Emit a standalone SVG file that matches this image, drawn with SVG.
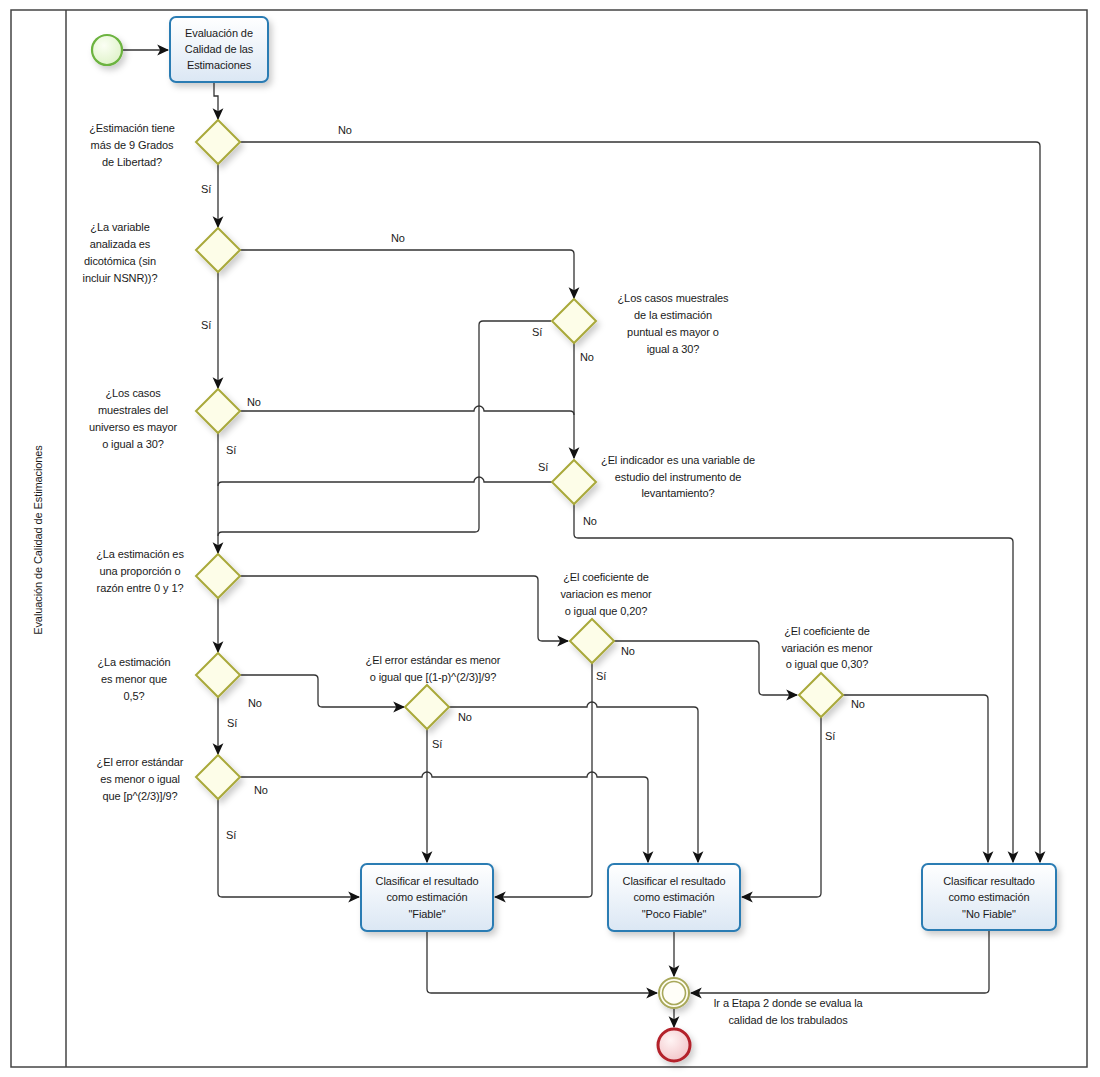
<svg xmlns="http://www.w3.org/2000/svg" width="1100" height="1077" viewBox="0 0 1100 1077">
<defs>
<marker id="arr" markerUnits="userSpaceOnUse" markerWidth="12" markerHeight="12" viewBox="0 0 10 10" refX="9" refY="5" orient="auto">
<path d="M0,0.5 L10,5 L0,9.5 L2.5,5 z" fill="#111"/>
</marker>
<linearGradient id="taskg" x1="0" y1="0" x2="0" y2="1">
<stop offset="0" stop-color="#ffffff"/><stop offset="1" stop-color="#dbe7f4"/>
</linearGradient>
<radialGradient id="endg" cx="0.4" cy="0.35" r="0.7">
<stop offset="0" stop-color="#fff4f4"/><stop offset="1" stop-color="#f2c4c8"/>
</radialGradient>
<radialGradient id="startg" cx="0.4" cy="0.35" r="0.7">
<stop offset="0" stop-color="#fbfff4"/><stop offset="1" stop-color="#def2c8"/>
</radialGradient>
<filter id="sh" x="-30%" y="-30%" width="170%" height="170%">
<feDropShadow dx="3" dy="4" stdDeviation="3" flood-color="#000" flood-opacity="0.2"/>
</filter>
</defs>
<style>
text{font-family:"Liberation Sans",Arial,sans-serif;font-size:11px;fill:#1a1a1a;letter-spacing:-0.1px}
.c{text-anchor:middle}
.task{fill:url(#taskg);stroke:#2a7bb3;stroke-width:2}
.gw{fill:#fdfde8;stroke:#a9a93a;stroke-width:2;filter:url(#sh)}
.edge{fill:none;stroke:#333;stroke-width:1.3}
.arrow{marker-end:url(#arr)}
</style>
<rect x="0" y="0" width="1100" height="1077" fill="#fff"/>
<g id="pool">
<rect x="11" y="10" width="1076" height="1057" fill="none" stroke="#444" stroke-width="1.5"/>
<line x1="66" y1="10" x2="66" y2="1067" stroke="#444" stroke-width="1.5"/>
<text class="c" transform="translate(42,540) rotate(-90)">Evaluación de Calidad de Estimaciones</text>
</g>
<g id="connectors">
<path class="edge arrow" d="M122,50 H168"/>
<path class="edge arrow" d="M214,82 V96 H218 V119"/>
<path class="edge arrow" d="M240,142 H1036 Q1040,142 1040,146 V862"/>
<path class="edge arrow" d="M218,164 V227"/>
<path class="edge arrow" d="M240,250 H570 Q574,250 574,254 V298"/>
<path class="edge arrow" d="M218,272 V388"/>
<path class="edge" d="M551,321 H483 Q479,321 479,325 V528 Q479,532 475,532 H222 Q218,532 218,536"/>
<path class="edge arrow" d="M574,343 V458"/>
<path class="edge" d="M240,411 H474 A5,5 0 0 1 484,411 H570 Q574,411 574,415"/>
<path class="edge arrow" d="M218,433 V553"/>
<path class="edge" d="M552,482 H484 A5,5 0 0 0 474,482 H222 Q218,482 218,486"/>
<path class="edge arrow" d="M574,504 V534 Q574,538 578,538 H1009 Q1013,538 1013,542 V862"/>
<path class="edge arrow" d="M240,576 H534 Q538,576 538,580 V637 Q538,641 542,641 H568"/>
<path class="edge arrow" d="M218,598 V652"/>
<path class="edge arrow" d="M614,641 H755 Q759,641 759,645 V691 Q759,695 763,695 H797"/>
<path class="edge arrow" d="M592,663 V893 Q592,897 588,897 H495"/>
<path class="edge arrow" d="M843,695 H984 Q988,695 988,699 V862"/>
<path class="edge arrow" d="M821,717 V893 Q821,897 817,897 H742"/>
<path class="edge arrow" d="M240,675 H314 Q318,675 318,679 V703 Q318,707 322,707 H404"/>
<path class="edge arrow" d="M218,697 V754"/>
<path class="edge arrow" d="M449,707 H587 A5,5 0 0 1 597,707 H694 Q698,707 698,711 V862"/>
<path class="edge arrow" d="M427,729 V862"/>
<path class="edge arrow" d="M240,777 H422 A5,5 0 0 1 432,777 H587 A5,5 0 0 1 597,777 H644 Q648,777 648,781 V862"/>
<path class="edge arrow" d="M218,799 V893 Q218,897 222,897 H359"/>
<path class="edge arrow" d="M427,931 V989 Q427,993 431,993 H657"/>
<path class="edge arrow" d="M674,931 V976"/>
<path class="edge arrow" d="M989,930 V989 Q989,993 985,993 H691"/>
<path class="edge arrow" d="M674,1009 V1027"/>
<text x="338" y="134">No</text>
<text x="201" y="193">Sí</text>
<text x="391" y="242">No</text>
<text x="201" y="329">Sí</text>
<text x="532" y="336">Sí</text>
<text x="580" y="361">No</text>
<text x="247" y="406">No</text>
<text x="226" y="454">Sí</text>
<text x="538" y="471">Sí</text>
<text x="583" y="525">No</text>
<text x="621" y="655">No</text>
<text x="596" y="680">Sí</text>
<text x="851" y="708">No</text>
<text x="825" y="740">Sí</text>
<text x="248" y="707">No</text>
<text x="227" y="727">Sí</text>
<text x="458" y="721">No</text>
<text x="432" y="748">Sí</text>
<text x="254" y="794">No</text>
<text x="226" y="839">Sí</text>
</g>
<g id="start">
<circle cx="107" cy="50" r="15" fill="url(#startg)" stroke="#6cb33f" stroke-width="2.2" filter="url(#sh)"/>
</g>
<g id="task_eval">
<rect class="task" x="170" y="17" width="98" height="65" rx="6" filter="url(#sh)"/>
<text class="c" x="219" y="37">Evaluación de</text>
<text class="c" x="219" y="53">Calidad de las</text>
<text class="c" x="219" y="69">Estimaciones</text>
</g>
<g id="gw_grados">
<path class="gw" d="M218,120 L240,142 L218,164 L196,142 z"/>
<text class="c" x="132" y="132">¿Estimación tiene</text>
<text class="c" x="132" y="149">más de 9 Grados</text>
<text class="c" x="132" y="166">de Libertad?</text>
</g>
<g id="gw_dicotomica">
<path class="gw" d="M218,228 L240,250 L218,272 L196,250 z"/>
<text class="c" x="120" y="231">¿La variable</text>
<text class="c" x="120" y="248">analizada es</text>
<text class="c" x="120" y="265">dicotómica (sin</text>
<text class="c" x="120" y="282">incluir NSNR))?</text>
</g>
<g id="gw_puntual">
<path class="gw" d="M574,299 L596,321 L574,343 L552,321 z"/>
<text class="c" x="673" y="302">¿Los casos muestrales</text>
<text class="c" x="673" y="319">de la estimación</text>
<text class="c" x="673" y="336">puntual es mayor o</text>
<text class="c" x="673" y="353">igual a 30?</text>
</g>
<g id="gw_universo">
<path class="gw" d="M218,389 L240,411 L218,433 L196,411 z"/>
<text class="c" x="133" y="397">¿Los casos</text>
<text class="c" x="133" y="414">muestrales del</text>
<text class="c" x="133" y="431">universo es mayor</text>
<text class="c" x="133" y="448">o igual a 30?</text>
</g>
<g id="gw_indicador">
<path class="gw" d="M574,460 L596,482 L574,504 L552,482 z"/>
<text class="c" x="678" y="464">¿El indicador es una variable de</text>
<text class="c" x="678" y="481">estudio del instrumento de</text>
<text class="c" x="678" y="497">levantamiento?</text>
</g>
<g id="gw_proporcion">
<path class="gw" d="M218,554 L240,576 L218,598 L196,576 z"/>
<text class="c" x="140" y="558">¿La estimación es</text>
<text class="c" x="140" y="575">una proporción o</text>
<text class="c" x="140" y="592">razón entre 0 y 1?</text>
</g>
<g id="gw_cv20">
<path class="gw" d="M592,619 L614,641 L592,663 L570,641 z"/>
<text class="c" x="606" y="581">¿El coeficiente de</text>
<text class="c" x="606" y="598">variacion es menor</text>
<text class="c" x="606" y="615">o igual que 0,20?</text>
</g>
<g id="gw_cv30">
<path class="gw" d="M821,673 L843,695 L821,717 L799,695 z"/>
<text class="c" x="827" y="635">¿El coeficiente de</text>
<text class="c" x="827" y="652">variación es menor</text>
<text class="c" x="827" y="668">o igual que 0,30?</text>
</g>
<g id="gw_menor05">
<path class="gw" d="M218,653 L240,675 L218,697 L196,675 z"/>
<text class="c" x="134" y="666">¿La estimación</text>
<text class="c" x="134" y="683">es menor que</text>
<text class="c" x="134" y="700">0,5?</text>
</g>
<g id="gw_error1p">
<path class="gw" d="M427,685 L449,707 L427,729 L405,707 z"/>
<text class="c" x="433" y="664">¿El error estándar es menor</text>
<text class="c" x="433" y="681">o igual que [(1-p)^(2/3)]/9?</text>
</g>
<g id="gw_errorp">
<path class="gw" d="M218,755 L240,777 L218,799 L196,777 z"/>
<text class="c" x="140" y="766">¿El error estándar</text>
<text class="c" x="140" y="783">es menor o igual</text>
<text class="c" x="140" y="800">que [p^(2/3)]/9?</text>
</g>
<g id="task_fiable">
<rect class="task" x="361" y="864" width="132" height="67" rx="6" filter="url(#sh)"/>
<text class="c" x="427" y="885">Clasificar el resultado</text>
<text class="c" x="427" y="901">como estimación</text>
<text class="c" x="427" y="918">"Fiable"</text>
</g>
<g id="task_poco">
<rect class="task" x="608" y="864" width="132" height="67" rx="6" filter="url(#sh)"/>
<text class="c" x="674" y="885">Clasificar el resultado</text>
<text class="c" x="674" y="901">como estimación</text>
<text class="c" x="674" y="918">"Poco Fiable"</text>
</g>
<g id="task_nofiable">
<rect class="task" x="922" y="864" width="134" height="66" rx="6" filter="url(#sh)"/>
<text class="c" x="989" y="885">Clasificar resultado</text>
<text class="c" x="989" y="901">como estimación</text>
<text class="c" x="989" y="918">"No Fiable"</text>
</g>
<g id="event_etapa2">
<circle cx="674" cy="993" r="15" fill="#fffef2" stroke="#a8a85a" stroke-width="2" filter="url(#sh)"/>
<circle cx="674" cy="993" r="11.5" fill="#fffef8" stroke="#a8a85a" stroke-width="1.6"/>
<text class="c" x="788" y="1007">Ir a Etapa 2 donde se evalua la</text>
<text class="c" x="788" y="1024">calidad de los trabulados</text>
</g>
<g id="end">
<circle cx="674" cy="1045" r="16" fill="url(#endg)" stroke="#b3202b" stroke-width="3" filter="url(#sh)"/>
</g>
</svg>
